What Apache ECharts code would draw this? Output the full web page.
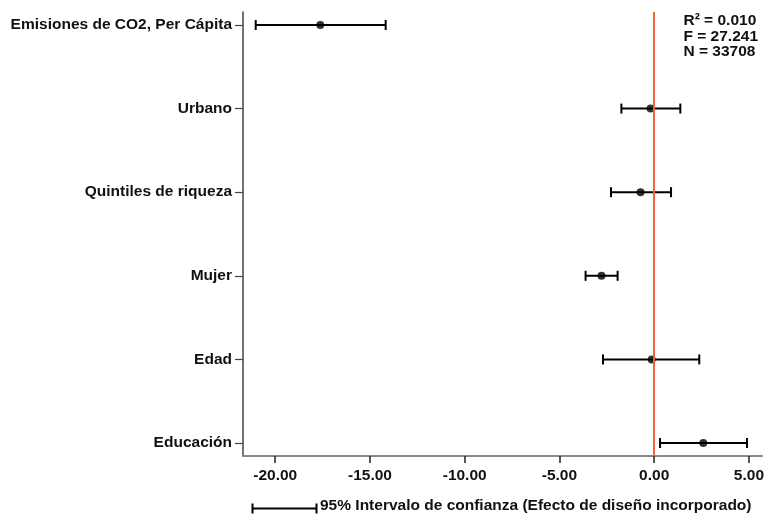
<!DOCTYPE html>
<html>
<head>
<meta charset="utf-8">
<script src="https://cdn.jsdelivr.net/npm/echarts@6/dist/echarts.min.js"></script>
<style>html,body{margin:0;padding:0;background:#fff}#c{width:767px;height:517px}</style>
</head>
<body>
<div id="c"></div>
<script>
var categories = ['Emisiones de CO2, Per Cápita', 'Urbano', 'Quintiles de riqueza', 'Mujer', 'Edad', 'Educación'];
var estimates = [-17.62, -0.19, -0.72, -2.78, -0.13, 2.59];
var lowerCI = [-21.03, -1.73, -2.28, -3.62, -2.70, 0.31];
var upperCI = [-14.17, 1.38, 0.89, -1.93, 2.38, 4.90];
var xTicks = [-20, -15, -10, -5, 0, 5];
var statsLines = ['R² = 0.010', 'F = 27.241', 'N = 33708'];
var legendText = '95% Intervalo de confianza (Efecto de diseño incorporado)';

var FONT = '"Liberation Sans", Arial, sans-serif';
var FS = 15.5;
var chart = echarts.init(document.getElementById('c'));

var barData = categories.map(function (c, i) { return [lowerCI[i], upperCI[i], i]; });
var pointData = categories.map(function (c, i) { return [estimates[i], i]; });
var catIdx = categories.map(function (c, i) { return i; });

chart.setOption({
  animation: false,
  grid: { left: 243, width: 521, top: 12, height: 444, containLabel: false },
  xAxis: {
    type: 'value', min: -21.7, max: 5.7,
    splitLine: { show: false },
    axisLine: { show: true, onZero: false, lineStyle: { color: '#8a8a8a', width: 2 } },
    axisTick: { show: true, customValues: xTicks, length: 7, lineStyle: { color: '#222', width: 1.5 } },
    axisLabel: { customValues: xTicks, margin: 12, color: '#111', fontFamily: FONT, fontWeight: 'bold', fontSize: FS,
      formatter: function (v) { return v.toFixed(2); } }
  },
  yAxis: {
    type: 'value', inverse: true, min: -0.155, max: 5.155,
    splitLine: { show: false },
    axisLine: { show: true, onZero: false, lineStyle: { color: '#444', width: 1.5 } },
    axisTick: { show: true, customValues: catIdx, length: 8, lineStyle: { color: '#444', width: 1.2 } },
    axisLabel: { customValues: catIdx, margin: 11, color: '#111', fontFamily: FONT, fontWeight: 'bold', fontSize: FS,
      formatter: function (v) { return categories[Math.round(v)]; } }
  },
  series: [
    {
      type: 'custom',
      data: barData,
      renderItem: function (params, api) {
        var lo = api.coord([api.value(0), api.value(2)]);
        var hi = api.coord([api.value(1), api.value(2)]);
        var h = 5;
        var st = { stroke: '#000', lineWidth: 2 };
        return { type: 'group', children: [
          { type: 'line', shape: { x1: lo[0], y1: lo[1], x2: hi[0], y2: hi[1] }, style: st },
          { type: 'line', shape: { x1: lo[0], y1: lo[1] - h, x2: lo[0], y2: lo[1] + h }, style: st },
          { type: 'line', shape: { x1: hi[0], y1: hi[1] - h, x2: hi[0], y2: hi[1] + h }, style: st }
        ] };
      },
      z: 3
    },
    {
      type: 'scatter', data: pointData, symbol: 'circle', symbolSize: 8,
      itemStyle: { color: '#000' }, z: 4,
      markLine: {
        silent: true, symbol: 'none', label: { show: false },
        lineStyle: { color: '#f0653a', width: 2, type: 'solid' },
        data: [{ xAxis: 0 }]
      }
    }
  ],
  graphic: [
    { type: 'text', right: 9, top: 13, style: { text: statsLines.join('\n'), align: 'right', fill: '#111',
      font: 'bold ' + FS + 'px ' + FONT, lineHeight: 15.5 } },
    { type: 'group', left: 250, top: 501, children: [
      { type: 'line', shape: { x1: 0, y1: 5, x2: 64, y2: 5 }, style: { stroke: '#000', lineWidth: 2 } },
      { type: 'line', shape: { x1: 0, y1: 0, x2: 0, y2: 10 }, style: { stroke: '#000', lineWidth: 2 } },
      { type: 'line', shape: { x1: 64, y1: 0, x2: 64, y2: 10 }, style: { stroke: '#000', lineWidth: 2 } }
    ] },
    { type: 'text', left: 320, top: 498, style: { text: legendText, fill: '#111', font: 'bold ' + FS + 'px ' + FONT } }
  ]
});
</script>
</body>
</html>
